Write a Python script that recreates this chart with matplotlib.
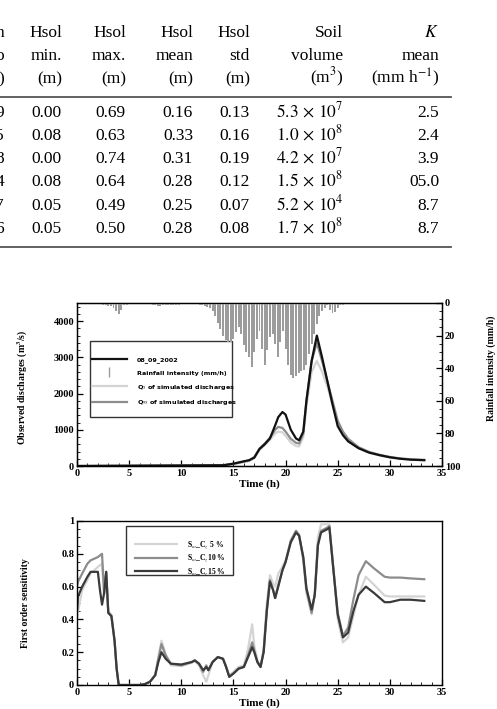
import numpy as np
import matplotlib
matplotlib.use("Agg")
import matplotlib.pyplot as plt
from matplotlib.lines import Line2D
from matplotlib.patches import Rectangle

plt.rcParams['mathtext.fontset'] = 'stix'
SERIF = 'Liberation Serif'

# ---- table (partly cropped) ----
cut_header = ["n", "o", ")"]
cut_col = ["9", "5", "8", "4", "7", "6"]
headers = [["Hsol", "min.", "(m)"],
           ["Hsol", "max.", "(m)"],
           ["Hsol", "mean", "(m)"],
           ["Hsol", "std", "(m)"],
           ["Soil", "volume", "(m$^3$)"],
           ["$K$", "mean", "(mm h$^{-1}$)"]]
hsol_min = [0.00, 0.08, 0.00, 0.08, 0.05, 0.05]
hsol_max = [0.69, 0.63, 0.74, 0.64, 0.49, 0.50]
hsol_mean = [0.16, 0.33, 0.31, 0.28, 0.25, 0.28]
hsol_std = [0.13, 0.16, 0.19, 0.12, 0.07, 0.08]
vol_mant = [5.3, 1.0, 4.2, 1.5, 5.2, 1.7]
vol_exp = [7, 8, 7, 8, 4, 8]
k_mean = ["2.5", "2.4", "3.9", "05.0", "8.7", "8.7"]

# ---- hydrograph ----
rain_start, rain_step = 2.5, 0.25
rain = [1, 1.5, 2, 2, 3, 5, 6.5, 4, 1.5, 1, 0.5, 0.5, 0.5, 0.3, 0.3, 0.5,
        0.5, 0.5, 0.5, 1, 1.5, 2, 2, 1.5, 1, 1.5, 1, 1, 1.5, 1, 0.5, 0.5,
        0.5, 0.5, 0.5, 0.5, 0.5, 1, 1.5, 2, 2.5, 3, 5, 8, 12, 16, 20, 23,
        24, 24, 22, 18, 15, 19, 26, 30, 33, 39, 30, 22, 17, 28, 38, 29, 21,
        19, 25, 33, 24, 17, 28, 38, 44, 46, 45, 43, 42, 41, 38, 31, 25, 19,
        13, 8, 5, 3, 1.5, 4, 6, 5.5, 3, 1.5, 1, 0.5, 0.3]

q_time = [0, 14, 15, 16, 16.5, 17, 17.5, 18, 18.5, 19, 19.3, 19.7, 20, 20.5,
          21, 21.3, 21.7, 22, 22.5, 23, 23.5, 24, 24.5, 25, 25.5, 26, 27, 28,
          29, 30, 31, 32, 33.3]
q_obs = [0, 20, 65, 130, 160, 230, 470, 600, 760, 1120, 1350, 1490, 1420,
         1000, 760, 710, 950, 1800, 2900, 3600, 3000, 2350, 1700, 1100, 850,
         680, 490, 370, 300, 240, 200, 175, 160]
q_95 = [0, 20, 60, 120, 150, 250, 480, 620, 780, 1000, 1080, 1050, 950, 750,
        640, 620, 900, 1800, 2900, 3400, 2900, 2350, 1800, 1250, 950, 750,
        520, 390, 310, 250, 210, 185, 170]
q_05 = [0, 15, 50, 110, 140, 220, 440, 570, 720, 900, 950, 930, 830, 650,
        550, 540, 800, 1650, 2600, 2900, 2600, 2200, 1700, 1200, 920, 720,
        500, 370, 290, 240, 200, 175, 160]

# ---- sensitivity ----
s_time = [0, 0.1, 0.5, 1.0, 1.3, 2.0, 2.2, 2.4, 2.6, 2.8, 3.0, 3.3, 3.6, 3.8,
          4.0, 5, 6, 6.5, 7, 7.5, 7.8, 8.1, 8.5, 9, 10, 11, 11.3, 11.7, 12.1,
          12.4, 12.6, 13, 13.5, 14, 14.3, 14.6, 15, 15.5, 16, 16.4, 16.8, 17.0,
          17.3, 17.6, 17.9, 18.2, 18.5, 18.8, 19.0, 19.3, 19.7, 20, 20.5, 21,
          21.3, 21.7, 22, 22.5, 22.8, 23.1, 23.4, 24.0, 24.2, 24.5, 25, 25.5,
          26, 26.5, 27, 27.7, 28.5, 29.5, 30, 31, 32, 33.3]
s15 = [0.45, 0.54, 0.60, 0.66, 0.69, 0.69, 0.58, 0.49, 0.56, 0.69, 0.44, 0.42,
       0.27, 0.10, 0.0, 0.0, 0.0, 0.005, 0.02, 0.06, 0.14, 0.20, 0.16, 0.13,
       0.125, 0.14, 0.15, 0.13, 0.09, 0.11, 0.09, 0.14, 0.17, 0.16, 0.11, 0.05,
       0.07, 0.10, 0.11, 0.17, 0.23, 0.20, 0.14, 0.11, 0.20, 0.45, 0.63, 0.58,
       0.53, 0.60, 0.70, 0.75, 0.87, 0.93, 0.91, 0.78, 0.59, 0.46, 0.55, 0.85,
       0.93, 0.95, 0.96, 0.76, 0.43, 0.29, 0.32, 0.45, 0.55, 0.60, 0.56, 0.505,
       0.505, 0.52, 0.52, 0.513]
s10 = [0.60, 0.63, 0.68, 0.74, 0.76, 0.78, 0.79, 0.80, 0.56, 0.69, 0.44, 0.42,
       0.27, 0.10, 0.0, 0.0, 0.0, 0.005, 0.02, 0.06, 0.16, 0.25, 0.18, 0.13,
       0.12, 0.14, 0.15, 0.13, 0.08, 0.12, 0.09, 0.14, 0.17, 0.16, 0.11, 0.05,
       0.07, 0.10, 0.11, 0.18, 0.26, 0.21, 0.14, 0.11, 0.21, 0.46, 0.64, 0.58,
       0.53, 0.61, 0.70, 0.75, 0.88, 0.94, 0.91, 0.77, 0.58, 0.44, 0.55, 0.86,
       0.94, 0.96, 0.97, 0.76, 0.44, 0.30, 0.35, 0.52, 0.67, 0.755, 0.71, 0.66,
       0.655, 0.655, 0.65, 0.645]
s05 = [0.40, 0.45, 0.58, 0.64, 0.68, 0.72, 0.73, 0.74, 0.55, 0.68, 0.45, 0.43,
       0.28, 0.10, 0.0, 0.0, 0.0, 0.005, 0.02, 0.06, 0.17, 0.27, 0.19, 0.12,
       0.115, 0.135, 0.145, 0.12, 0.06, 0.02, 0.06, 0.14, 0.17, 0.16, 0.11,
       0.06, 0.08, 0.11, 0.12, 0.22, 0.37, 0.24, 0.15, 0.11, 0.22, 0.50, 0.67,
       0.62, 0.60, 0.68, 0.72, 0.76, 0.88, 0.94, 0.92, 0.76, 0.56, 0.43, 0.56,
       0.90, 0.98, 0.98, 0.98, 0.78, 0.40, 0.26, 0.29, 0.42, 0.55, 0.66, 0.61,
       0.545, 0.54, 0.54, 0.54, 0.54]

W, H = 497, 709
fig = plt.figure(figsize=(W / 100, H / 100), dpi=100)


def fx(px):
    return px / W


def fy(py):
    return 1 - py / H


# table
tfs = 12.5
col_right = [62, 126, 193, 250, 343, 439]
head_base = [37, 60, 83]
row_base = [117, 140, 163, 186, 210, 233]
for j, s in enumerate(cut_header):
    fig.text(fx(4), fy(head_base[j]), s, ha='right', va='baseline', family=SERIF, fontsize=tfs)
for i, s in enumerate(cut_col):
    fig.text(fx(4), fy(row_base[i]), s, ha='right', va='baseline', family=SERIF, fontsize=tfs)
for c, hdr in enumerate(headers):
    for j, s in enumerate(hdr):
        fig.text(fx(col_right[c]), fy(head_base[j]), s, ha='right', va='baseline',
                 family=SERIF, fontsize=tfs)
cols = [["%.2f" % v for v in hsol_min], ["%.2f" % v for v in hsol_max],
        ["%.2f" % v for v in hsol_mean], ["%.2f" % v for v in hsol_std],
        ["$%.1f\\,\\times\\,10^{%d}$" % (m, e) for m, e in zip(vol_mant, vol_exp)],
        k_mean]
for c, col in enumerate(cols):
    for i, s in enumerate(col):
        fig.text(fx(col_right[c]), fy(row_base[i]), s, ha='right', va='baseline',
                 family=SERIF, fontsize=tfs)
for yy in (97, 247):
    fig.add_artist(Line2D([0, fx(451)], [fy(yy), fy(yy)], color='#555555', lw=1.3))

tick_font = dict(family=SERIF, weight='bold', size=7.5)
lab_font = dict(family=SERIF, weight='bold', size=7)


def style_axis(ax):
    ax.tick_params(which='both', direction='in', top=False, right=False, pad=2)
    ax.tick_params(which='major', length=4, width=0.9)
    ax.tick_params(which='minor', length=2, width=0.6)
    for lbl in ax.get_xticklabels() + ax.get_yticklabels():
        lbl.set_fontproperties(matplotlib.font_manager.FontProperties(**tick_font))
    for sp in ax.spines.values():
        sp.set_linewidth(1.0)


# ---- top chart ----
ax1 = fig.add_axes([fx(77), fy(466), fx(442) - fx(77), fy(303) - fy(466)])
ax2 = ax1.twinx()
rain_t = rain_start + rain_step * np.arange(len(rain))
ax2.bar(rain_t, rain, width=0.19, color='#9c9c9c', linewidth=0, zorder=1)
ax2.set_ylim(100, 0)
ax2.set_yticks(range(0, 101, 20))
ax2.set_yticks(range(0, 101, 5), minor=True)
ax2.tick_params(which='both', direction='in', pad=2)
ax2.tick_params(which='major', length=4, width=0.9)
ax2.tick_params(which='minor', length=2, width=0.6)
for lbl in ax2.get_yticklabels():
    lbl.set_fontproperties(matplotlib.font_manager.FontProperties(**tick_font))
ax2.set_ylabel('Rainfall intensity (mm/h)', **lab_font)
ax2.yaxis.set_label_coords(1.122, 0.60)

ax1.plot(q_time, q_05, color='#d4d4d4', lw=1.6)
ax1.plot(q_time, q_95, color='#8c8c8c', lw=1.6)
ax1.plot(q_time, q_obs, color='#111111', lw=1.6)
ax1.set_xlim(0, 35)
ax1.set_ylim(0, 4500)
ax1.set_xticks(range(0, 36, 5))
ax1.set_xticks(range(0, 36, 1), minor=True)
ax1.set_yticks(range(0, 4001, 1000))
ax1.set_yticks(range(0, 4501, 200), minor=True)
style_axis(ax1)
ax1.set_ylabel('Observed discharges (m$^\\mathbf{3}$/s)', **lab_font)
ax1.yaxis.set_label_coords(-0.129, 0.485)
ax1.set_xlabel('Time (h)', family=SERIF, weight='bold', size=8, labelpad=1)

ax1.add_patch(Rectangle((0.036, 0.30), 0.389, 0.467, transform=ax1.transAxes,
                        fill=True, facecolor='white', edgecolor='#333333', lw=1.0, zorder=5))
h1 = [Line2D([], [], color='#111111', lw=1.6),
      Line2D([], [], color='#9c9c9c', marker='|', ls='none', markersize=7, mew=1),
      Line2D([], [], color='#d4d4d4', lw=1.6),
      Line2D([], [], color='#8c8c8c', lw=1.6)]
l1 = ['08_09_2002', 'Rainfall intensity (mm/h)',
      'Q$_{5}$ of simulated discharges', 'Q$_{95}$ of simulated discharges']
leg1 = ax1.legend(h1, l1, loc='upper left', bbox_to_anchor=(0.04, 0.67),
                  frameon=False, prop=dict(family='DejaVu Sans', weight='bold', size=4.6),
                  handlelength=5.5, handletextpad=1.6, labelspacing=1.1,
                  borderaxespad=0, borderpad=0)
leg1.set_zorder(6)

# ---- bottom chart ----
ax3 = fig.add_axes([fx(77), fy(685), fx(442) - fx(77), fy(521) - fy(685)])
ax3.plot(s_time, s05, color='#d4d4d4', lw=1.6, label='S$_\\omega$_C$_z$ 5 %')
ax3.plot(s_time, s10, color='#8c8c8c', lw=1.6, label='S$_\\omega$_C$_z$10 %')
ax3.plot(s_time, s15, color='#3a3a3a', lw=1.6, label='S$_\\omega$_C$_z$15 %')
ax3.set_xlim(0, 35)
ax3.set_ylim(0, 1)
ax3.set_xticks(range(0, 36, 5))
ax3.set_xticks(range(0, 36, 1), minor=True)
ax3.set_yticks([0, 0.2, 0.4, 0.6, 0.8, 1])
ax3.set_yticklabels(['0', '0.2', '0.4', '0.6', '0.8', '1'])
ax3.set_yticks(np.arange(0, 1.001, 0.05), minor=True)
style_axis(ax3)
ax3.set_ylabel('First order sensitivity', **lab_font)
ax3.yaxis.set_label_coords(-0.129, 0.5)
ax3.set_xlabel('Time (h)', family=SERIF, weight='bold', size=8, labelpad=1)
ax3.add_patch(Rectangle((0.134, 0.67), 0.293, 0.30, transform=ax3.transAxes,
                        fill=True, facecolor='white', edgecolor='#333333', lw=1.0, zorder=5))
leg3 = ax3.legend(loc='upper left', bbox_to_anchor=(0.16, 0.89), frameon=False,
                  prop=dict(family=SERIF, weight='bold', size=5.5),
                  handlelength=5.5, handletextpad=1.2, labelspacing=0.25,
                  borderaxespad=0, borderpad=0)
leg3.set_zorder(6)

fig.savefig('out.png', dpi=100)
